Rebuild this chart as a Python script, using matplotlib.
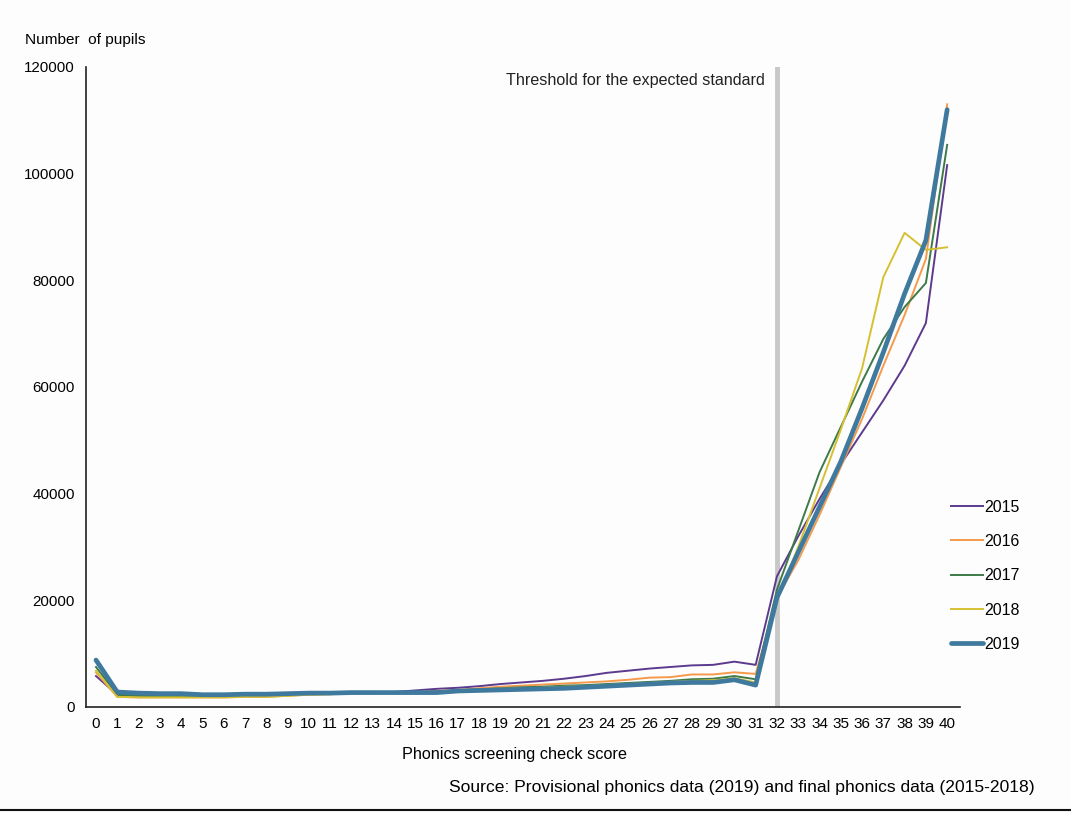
import numpy as np
import matplotlib
matplotlib.use("Agg")
import matplotlib.pyplot as plt
from matplotlib.lines import Line2D

plt.rcParams['font.family'] = ['Liberation Sans', 'DejaVu Sans']

scores = list(range(41))

y2015 = [5800, 2300, 2100, 2000, 2000, 2000, 2000, 2100, 2100, 2300,
         2500, 2500, 2700, 2700, 2800, 3100, 3400, 3600, 3900, 4300,
         4600, 4900, 5300, 5800, 6400, 6800, 7200, 7500, 7800, 7900,
         8500, 7900, 24500, 32000, 39000, 45500, 51500, 57500, 64000, 72000,
         101600]
y2016 = [6500, 1900, 1800, 1800, 1800, 1800, 1800, 1900, 1900, 2100,
         2300, 2400, 2600, 2600, 2700, 2800, 3000, 3200, 3500, 3800,
         4000, 4200, 4400, 4600, 4800, 5100, 5500, 5600, 6100, 6100,
         6500, 6200, 20500, 27500, 36000, 45000, 54000, 64000, 73500, 84000,
         113000]
y2017 = [7500, 2300, 2100, 2000, 2000, 2000, 2000, 2100, 2100, 2300,
         2400, 2500, 2600, 2700, 2700, 2800, 2900, 3100, 3300, 3500,
         3700, 3800, 4000, 4100, 4300, 4500, 4700, 4900, 5200, 5300,
         5800, 5200, 22000, 33000, 44000, 52500, 61000, 69000, 75000, 79500,
         105400]
y2018 = [6800, 1900, 1800, 1800, 1800, 1800, 1800, 1900, 1900, 2100,
         2300, 2400, 2600, 2600, 2700, 2700, 2800, 3000, 3200, 3400,
         3500, 3600, 3800, 3900, 4100, 4300, 4500, 4700, 4900, 5000,
         5400, 4600, 20000, 30000, 41000, 52000, 63500, 80600, 88900, 85700,
         86200]
y2019 = [8800, 2800, 2600, 2500, 2500, 2300, 2300, 2400, 2400, 2500,
         2600, 2600, 2700, 2700, 2700, 2700, 2700, 3000, 3100, 3200,
         3300, 3400, 3500, 3700, 3900, 4100, 4300, 4500, 4600, 4600,
         5100, 4100, 20500, 29000, 37500, 46000, 56000, 66500, 77500, 87500,
         112000]

yticks = [0, 20000, 40000, 60000, 80000, 100000, 120000]
threshold = 32

fig = plt.figure(figsize=(10.71, 8.13), dpi=100)
fig.patch.set_facecolor('#fdfdfd')
ax = fig.add_axes([0.0803, 0.1304, 0.816, 0.7872])
ax.set_facecolor('#fdfdfd')

ax.axvline(threshold, color='#c8c8c8', lw=3.5, zorder=1)
ax.text(threshold - 0.55, 117500, "Threshold for the expected standard",
        ha='right', va='center', fontsize=11.6, color='#222222')

ax.plot(scores, y2015, color='#5c3a8e', lw=1.4, label='2015', zorder=3)
ax.plot(scores, y2016, color='#f59a4c', lw=1.4, label='2016', zorder=3)
ax.plot(scores, y2017, color='#3d7a48', lw=1.4, label='2017', zorder=3)
ax.plot(scores, y2018, color='#d6c032', lw=1.4, label='2018', zorder=3)
ax.plot(scores, y2019, color='#3f7a9e', lw=3.4, label='2019', zorder=4,
        solid_capstyle='round')

ax.set_xlim(-0.47, 40.6)
ax.set_ylim(0, 120000)
ax.set_xticks(scores)
ax.set_xticklabels([str(s) for s in scores], fontsize=11)
ax.set_yticks(yticks)
ax.set_yticklabels([str(v) for v in yticks], fontsize=10.9)
ax.tick_params(length=0, pad=8)
ax.tick_params(axis='x', pad=7)

for s in ['top', 'right']:
    ax.spines[s].set_visible(False)
ax.spines['left'].set_color('#222222')
ax.spines['bottom'].set_color('#222222')
ax.spines['left'].set_linewidth(1.2)
ax.spines['bottom'].set_linewidth(1.2)

ax.set_xlabel("Phonics screening check score", fontsize=11.7)
ax.xaxis.set_label_coords(0.49, -0.063)
fig.text(0.023, 0.951, "Number  of pupils", fontsize=11.1, va='center')
fig.text(0.966, 0.031, "Source: Provisional phonics data (2019) and final phonics data (2015-2018)",
         fontsize=12.6, ha='right', va='center')

ax.legend(loc='center left', bbox_to_anchor=(0.982, 0.205), frameon=False,
          fontsize=11.4, handlelength=2.05, handletextpad=0.05, labelspacing=1.22,
          borderaxespad=0)

fig.add_artist(Line2D([0, 1], [0.004, 0.004], color='#111111', lw=1.5))

fig.savefig("out.png", dpi=100, facecolor=fig.get_facecolor())
